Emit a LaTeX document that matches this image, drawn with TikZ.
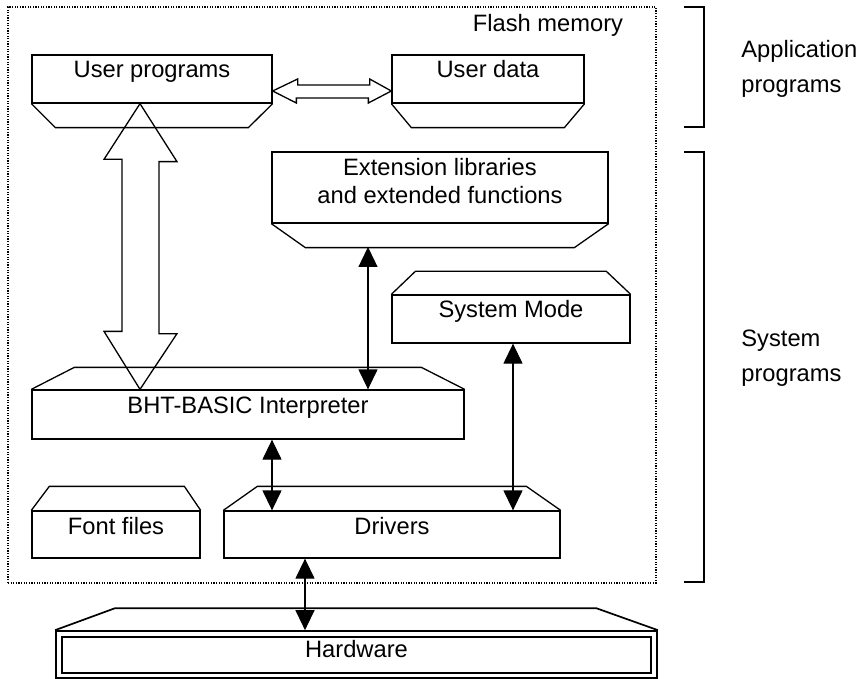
\documentclass[tikz,border=0pt]{standalone}
\usepackage{fontspec}
\setmainfont{Liberation Sans}
\usetikzlibrary{arrows.meta,calc}

\begin{document}
\begin{tikzpicture}[x=0.5pt,y=-0.5pt,
  every node/.style={font=\fontsize{11.85}{14}\selectfont},
  edge/.style={draw,line width=0.65pt,line join=miter},
  box/.style={draw,line width=0.65pt,inner sep=0pt,fill=none},
  flashbox/.style={draw,line width=0.8pt,dash pattern=on 0.6pt off 0.7pt,inner sep=0pt},
  hwbox/.style={draw,line width=0.85pt,inner sep=0pt},
  lbl/.style={inner sep=0pt},
  conn/.style={line width=0.65pt,
    {Triangle[length=10pt,width=9.5pt]}-{Triangle[length=10pt,width=9.5pt]}},
  hollow/.style={draw,line width=0.65pt,line join=miter},
  sidelbl/.style={inner sep=0pt,anchor=base west,font=\fontsize{11.85}{17.5}\selectfont},
]
\useasboundingbox (0,0) rectangle (862,679);

% flash memory area
\node[flashbox,minimum width=324pt,minimum height=288pt] (flash) at (332,295) {};
\node[lbl,anchor=base] (flash-t) at (548,32) {Flash memory};

% user programs
\node[box,minimum width=120pt,minimum height=24pt] (up) at (152,79) {};
\node[lbl,anchor=base] (up-t) at (152,78) {User programs};
\draw[edge] (up.south west) -- ++(24,24) -- ++(193,0) -- (up.south east);

% user data
\node[box,minimum width=96pt,minimum height=24pt] (ud) at (488,79) {};
\node[lbl,anchor=base] (ud-t) at (488,78) {User data};
\draw[edge] (ud.south west) -- ++(20,24) -- ++(153,0) -- (ud.south east);

% extension libraries
\node[box,minimum width=168pt,minimum height=35.5pt] (ext) at (440,187.5) {};
\node[lbl,anchor=base] (ext-t) at (440,176)
  {\begin{tabular}[t]{@{}c@{}}Extension libraries\\and extended functions\end{tabular}};
\draw[edge] (ext.south west) -- ++(34,24) -- ++(269,0) -- (ext.south east);

% system mode
\node[box,minimum width=119pt,minimum height=24pt] (sys) at (511,319) {};
\node[lbl,anchor=base] (sys-t) at (511,318) {System Mode};
\draw[edge] (sys.north west) -- ++(24,-23) -- ++(191,0) -- (sys.north east);

% interpreter
\node[box,minimum width=216pt,minimum height=24.5pt] (bht) at (248,414.5) {};
\node[lbl,anchor=base] (bht-t) at (248,413) {BHT-BASIC Interpreter};
\draw[edge] (bht.north west) -- ++(43,-22) -- ++(347,0) -- (bht.north east);

% font files
\node[box,minimum width=84pt,minimum height=23.5pt] (font) at (116,534.5) {};
\node[lbl,anchor=base] (font-t) at (116,534) {Font files};
\draw[edge] (font.north west) -- ++(18,-24) -- ++(135,0) -- (font.north east);

% drivers
\node[box,minimum width=168pt,minimum height=23.5pt] (drv) at (392,534.5) {};
\node[lbl,anchor=base] (drv-t) at (392,534) {Drivers};
\draw[edge] (drv.north west) -- ++(34,-24) -- ++(269,0) -- (drv.north east);

% hardware (double frame)
\node[hwbox,minimum width=300.5pt,minimum height=23.5pt] (hw) at (356.5,654.5) {};
\node[hwbox,minimum width=294.5pt,minimum height=18pt] (hw-in) at (356.5,655) {};
\node[lbl,anchor=base] (hw-t) at (356.5,657) {Hardware};
\draw[edge,line width=0.85pt] (hw.north west) -- ++(60,-22) -- ++(481,0) -- (hw.north east);

% hollow arrows
\coordinate (hl) at ($(up.east)+(0,12)$);
\coordinate (hr) at ($(ud.west)+(0,12)$);
\draw[hollow] (hl) -- ++(25,-12) -- ++(0,6) -- ++(72,0) -- ++(0,-6) -- (hr)
  -- ++(-23,12) -- ++(0,-5) -- ++(-72,0) -- ++(0,5) -- cycle;
\coordinate (xv) at (140,0);
\coordinate (vt) at (up.south -| xv);
\coordinate (vb) at (bht.north -| xv);
\draw[hollow] (vt) -- ++(37,58) -- ++(-18,0) -- ++(0,172) -- ++(18,0) -- (vb)
  -- ++(-36,-58) -- ++(18,0) -- ++(0,-172) -- ++(-18,0) -- cycle;

% connectors
\coordinate (ext-b) at (368,247);
\draw[conn] (ext-b) -- (ext-b |- bht.north);
\coordinate (xs) at (513,0);
\draw[conn] (sys.south -| xs) -- (drv.north -| xs);
\coordinate (xb) at (272,0);
\draw[conn] (bht.south -| xb) -- (drv.north -| xb);
\coordinate (xh) at (305,0);
\draw[conn] (drv.south -| xh) -- (hw.north -| xh);

% brackets and their labels
\draw[edge] (684,7) -- (704,7) -- (704,127) -- (684,127);
\draw[edge] (684,152) -- (704,152) -- (704,582) -- (684,582);
\node[sidelbl] (app-t) at (741,58)
  {\begin{tabular}[t]{@{}l@{}}Application\\programs\end{tabular}};
\node[sidelbl] (sysp-t) at (741,346)
  {\begin{tabular}[t]{@{}l@{}}System\\programs\end{tabular}};
\end{tikzpicture}
\end{document}
